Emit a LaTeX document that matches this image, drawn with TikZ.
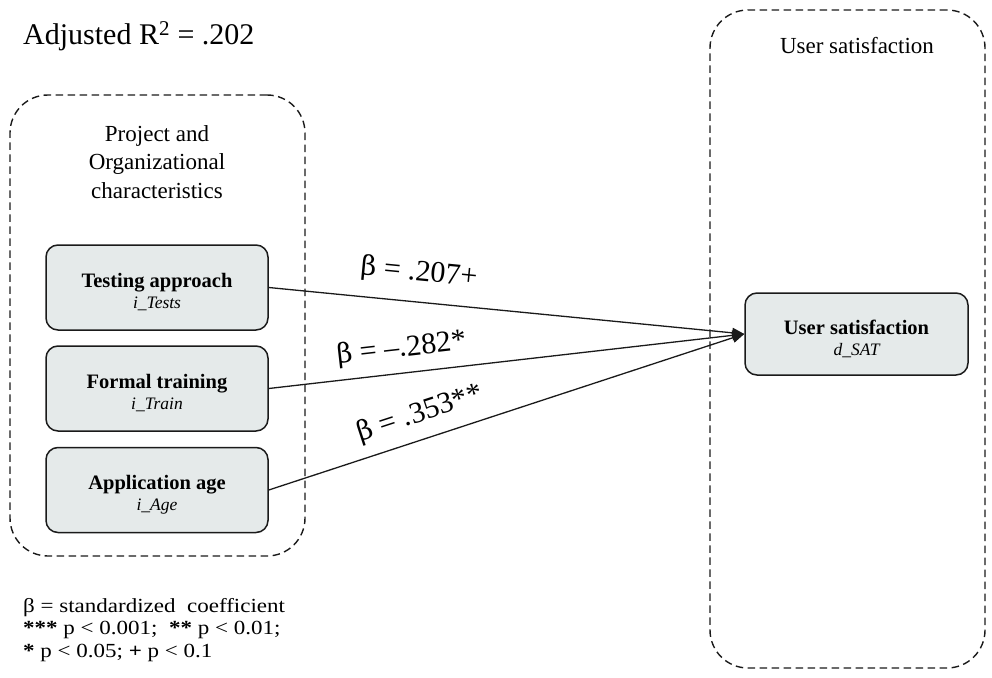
\documentclass[tikz,border=0pt]{standalone}
\usepackage{fontspec}
\setmainfont{Liberation Serif}
\newfontfamily\legendfont{Liberation Serif}[FakeStretch=1.15]
\newfontfamily\greekfont{DejaVu Serif}[Scale=0.9]
\usetikzlibrary{arrows.meta}
\definecolor{boxfill}{HTML}{E5EAEA}
\definecolor{ink}{HTML}{1A1A1A}

\begin{document}
\begin{tikzpicture}[x=1pt,y=-1pt,
  group/.style={draw=ink, dash pattern=on 7.5pt off 4.5pt, line width=1.4pt,
    rounded corners=38pt, inner sep=0pt},
  varbox/.style={draw=ink, fill=boxfill, line width=1.5pt, rounded corners=12pt,
    minimum width=222pt, minimum height=85pt, align=center, inner sep=0pt,
    font=\fontsize{20.5}{21}\selectfont},
  effect/.style={draw=ink, line width=1.3pt, -{Triangle[length=12pt,width=10pt]}},
  coef/.style={font=\fontsize{30}{32}\selectfont, inner sep=0pt, anchor=center},
  heading/.style={font=\fontsize{23}{28.5}\selectfont, align=center}
]
\useasboundingbox (0,0) rectangle (992,677);

% title
\node[anchor=base west, font=\fontsize{30}{34}\selectfont, inner sep=0pt] (title) at (23,45)
  {Adjusted R\textsuperscript{2} = .202};

% group frames
\node[group, minimum width=295pt, minimum height=461pt] (projgrp) at (157.5,325.5) {};
\node[group, minimum width=275pt, minimum height=658pt] (satgrp) at (847.5,339) {};

\node[heading] (projhead) at (157,162) {Project and\\Organizational\\characteristics};
\node[heading, anchor=base] (sathead) at (857,53) {User satisfaction};

% variables: bold name over italic code
\newcommand{\varlabel}[2]{\rule{0pt}{24pt}\textbf{#1}\\{\fontsize{17.5}{21}\selectfont\itshape #2}}
\node[varbox] (tests) at (157,287.5) {\varlabel{Testing approach}{i\_Tests}};
\node[varbox] (train) at (157,388.5) {\varlabel{Formal training}{i\_Train}};
\node[varbox] (age) at (157,490) {\varlabel{Application age}{i\_Age}};
\node[varbox, minimum width=223pt, minimum height=82pt] (sat) at (856.5,334)
  {\varlabel{User satisfaction}{d\_SAT}};

% regression paths with standardized coefficients
\newcommand{\betasym}{{\greekfont β}}
\draw[effect] (tests.east) -- node[coef, pos=0.31, rotate=-5.6, yshift=29pt] (b1) {\betasym{} = .207+} (sat.west);
\draw[effect] (train.east) -- node[coef, pos=0.285, rotate=6.5, yshift=24pt] (b2) {\betasym{} = –.282*} (sat.west);
\draw[effect] (age.east) -- node[coef, pos=0.335, rotate=18.1, yshift=25pt] (b3) {\betasym{} = .353**} (sat.west);

% legend
\node[anchor=west, align=left, inner sep=0pt,
      font=\legendfont\fontsize{20}{22.5}\selectfont] (legend) at (23,630)
  {β = standardized\ \ coefficient\\
   \textbf{***} p < 0.001;\ \ \textbf{**} p < 0.01;\\
   \textbf{*} p < 0.05;\ \textbf{+} p < 0.1};
\end{tikzpicture}
\end{document}
